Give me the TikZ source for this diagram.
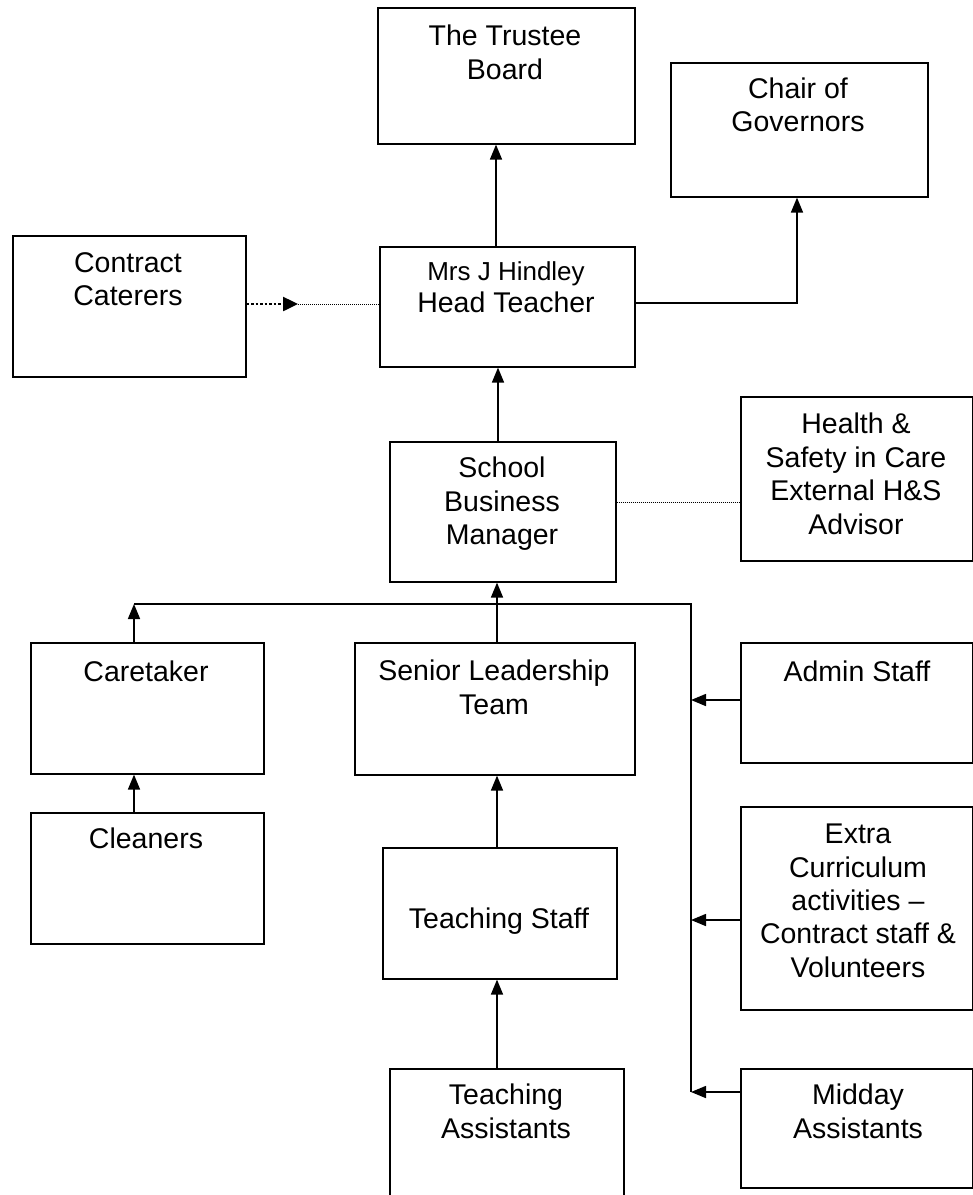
\documentclass[tikz,border=0pt]{standalone}
\usepackage{fontspec}
\setmainfont{Liberation Sans}
\usetikzlibrary{arrows.meta}
\begin{document}
\begin{tikzpicture}[x=1pt,y=-1pt,
  box/.style={draw, line width=1.6pt, inner sep=0pt, anchor=north west},
  txt/.style={font=\fontsize{28.5}{33.5}\selectfont, align=center, inner sep=0pt, anchor=north,
              execute at begin node={\rule{0pt}{21pt}}},
  arr/.style={line width=1.6pt, -{Triangle[length=15pt,width=12pt]}},
  busline/.style={line width=1.4pt},
  finedot/.style={line width=1pt, dash pattern=on 1pt off 1pt},
  thickdot/.style={line width=2.5pt, dash pattern=on 2.5pt off 2pt, -{Triangle[length=15pt,width=14pt]}}]
\fill[white] (0,0) rectangle (973,1195);
\useasboundingbox (0,0) rectangle (973,1195);

% boxes
\node[box, minimum width=257pt, minimum height=136pt] (tb)  at (377,7) {};
\node[box, minimum width=257pt, minimum height=134pt] (cg)  at (670,62) {};
\node[box, minimum width=233pt, minimum height=141pt] (cc)  at (12,235) {};
\node[box, minimum width=255pt, minimum height=120pt] (ht)  at (379,246) {};
\node[box, minimum width=226pt, minimum height=140pt] (sbm) at (389,441) {};
\node[box, minimum width=232pt, minimum height=164pt] (hs)  at (740,396) {};
\node[box, minimum width=233pt, minimum height=131pt] (ct)  at (30,642) {};
\node[box, minimum width=280pt, minimum height=132pt] (slt) at (354,642) {};
\node[box, minimum width=232pt, minimum height=120pt] (ad)  at (740,642) {};
\node[box, minimum width=233pt, minimum height=131pt] (cl)  at (30,812) {};
\node[box, minimum width=234pt, minimum height=131pt] (ts)  at (382,847) {};
\node[box, minimum width=232pt, minimum height=203pt] (ex)  at (740,806) {};
\node[box, minimum width=234pt, minimum height=150pt] (ta)  at (389,1068) {};
\node[box, minimum width=232pt, minimum height=119pt] (md)  at (740,1068) {};

% texts
\node[txt] (tbT)  at (505,25) {The Trustee\\Board};
\node[txt] (cgT)  at (798,77.5) {Chair of\\Governors};
\node[txt] (ccT)  at (128,252) {Contract\\Caterers};
\node[txt, font=\fontsize{26}{32}\selectfont] (htT) at (506,261) {Mrs J Hindley\\\fontsize{28.5}{32}\selectfont Head Teacher};
\node[txt] (sbmT) at (502,457) {School\\Business\\Manager};
\node[txt] (hsT)  at (856,413) {Health \&\\Safety in Care\\External H\&S\\Advisor};
\node[txt] (ctT)  at (146,660) {Caretaker};
\node[txt] (sltT) at (494,660) {Senior Leadership\\Team};
\node[txt] (adT)  at (857,660) {Admin Staff};
\node[txt] (clT)  at (146,827) {Cleaners};
\node[txt] (tsT)  at (499,907) {Teaching Staff};
\node[txt, font=\fontsize{28.5}{33.3}\selectfont] (exT) at (858,824) {Extra\\Curriculum\\activities –\\Contract staff \&\\Volunteers};
\node[txt] (taT)  at (506,1084) {Teaching\\Assistants};
\node[txt] (mdT)  at (858,1084) {Midday\\Assistants};

% helper coordinates
\coordinate (vT) at (496,0);
\coordinate (vS) at (498,0);
\coordinate (vM) at (497,0);
\coordinate (vC) at (797,0);
\coordinate (hy) at (0,303);
\coordinate (catA) at (298,304);
\coordinate (dy) at (0,502);
\coordinate (busL) at (134,604);
\coordinate (busR) at (691,604);
\coordinate (busB) at (691,1092);
\coordinate (aY) at (691,700);
\coordinate (eY) at (691,920);

% connectors
\draw[arr] (ht.north -| vT) -- (tb.south -| vT);
\draw[arr] (ht.east |- hy) -| (cg.south -| vC);
\draw[thickdot] (cc.east |- catA) -- (catA);
\draw[finedot] (catA) -- (ht.west |- catA);
\draw[arr] (sbm.north -| vS) -- (ht.south -| vS);
\draw[finedot] (sbm.east |- dy) -- (hs.west |- dy);
\draw[busline] (busL) -- (busR) -- (busB);
\draw[arr] (slt.north -| vM) -- (sbm.south -| vM);
\draw[arr] (ct.north -| busL) -- (busL);
\draw[arr] (cl.north -| busL) -- (ct.south -| busL);
\draw[arr] (ts.north -| vM) -- (slt.south -| vM);
\draw[arr] (ta.north -| vM) -- (ts.south -| vM);
\draw[arr] (ad.west |- aY) -- (aY);
\draw[arr] (ex.west |- eY) -- (eY);
\draw[arr] (md.west |- busB) -- (busB);
\end{tikzpicture}
\end{document}
